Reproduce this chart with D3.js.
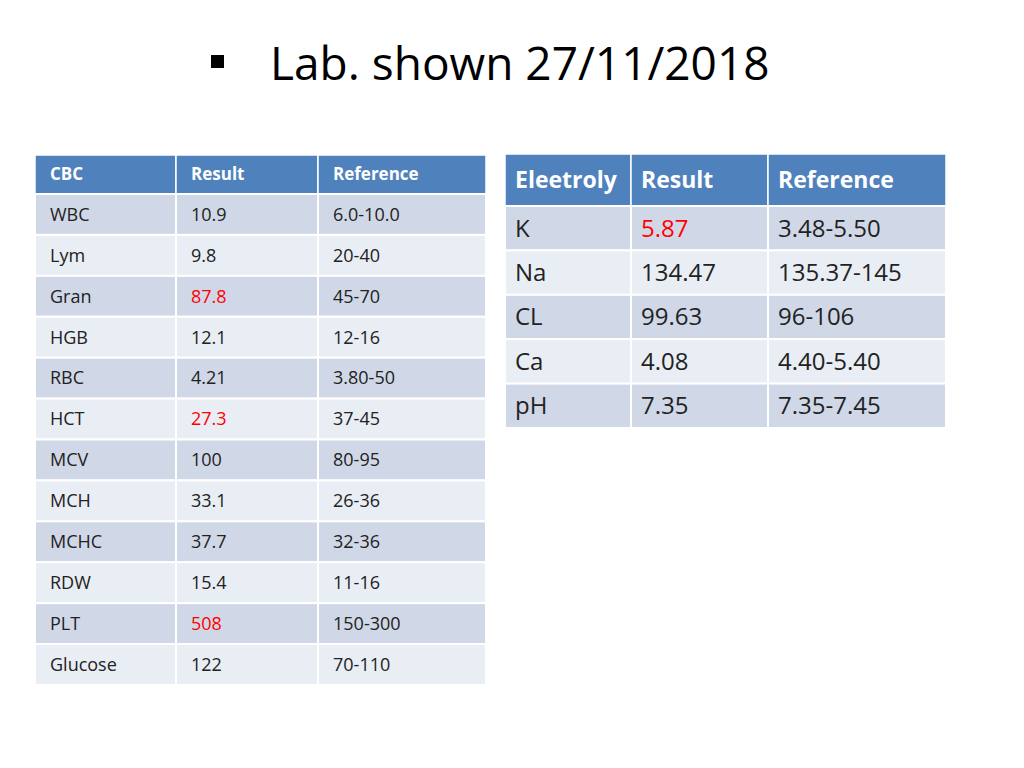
<!DOCTYPE html>
<html><head><meta charset="utf-8">
<script src="https://cdn.jsdelivr.net/npm/d3@7"></script>
<style>body{margin:0;background:#fff}</style>
</head><body><div id="slide"></div>
<script>
// table data
const cbcHeader = ["CBC", "Result", "Reference"];
const cbcTests = ["WBC","Lym","Gran","HGB","RBC","HCT","MCV","MCH","MCHC","RDW","PLT","Glucose"];
const cbcResults = ["10.9","9.8","87.8","12.1","4.21","27.3","100","33.1","37.7","15.4","508","122"];
const cbcRefs = ["6.0-10.0","20-40","45-70","12-16","3.80-50","37-45","80-95","26-36","32-36","11-16","150-300","70-110"];
const cbcHigh = ["Gran","HCT","PLT"];

const elHeader = ["Eleetroly", "Result", "Reference"];
const elTests = ["K","Na","CL","Ca","pH"];
const elResults = ["5.87","134.47","99.63","4.08","7.35"];
const elRefs = ["3.48-5.50","135.37-145","96-106","4.40-5.40","7.35-7.45"];
const elHigh = ["K"];

const W = 1024, H = 768;
const font = "'Open Sans', 'Liberation Sans', sans-serif";
const svg = d3.select("#slide").append("svg").attr("width", W).attr("height", H);

// title
svg.append("rect").attr("x", 211).attr("y", 55).attr("width", 13).attr("height", 13).attr("fill", "#000");
svg.append("text").attr("x", 270).attr("y", 80).attr("font-family", font)
  .attr("font-size", 46).attr("fill", "#000").text("Lab. shown 27/11/2018");

function table(opt) {
  const x = d3.scaleThreshold().domain([1, 2]).range([0, 1, 2]); // unused helper
  const colX = d3.scaleOrdinal().domain([0, 1, 2]).range(opt.cols.slice(0, 3));
  const y = d3.scaleBand().domain(opt.tests).range([opt.headerBottom, opt.bottom]);
  const g = svg.append("g");
  // header
  opt.header.forEach((h, i) => {
    g.append("rect").attr("x", opt.cols[i]).attr("y", opt.top)
      .attr("width", opt.cols[i + 1] - opt.cols[i]).attr("height", opt.headerBottom - opt.top)
      .attr("fill", "#4f81bd").attr("stroke", "#fff").attr("stroke-width", 1.5);
    g.append("text").attr("x", opt.cols[i] + opt.pad).attr("y", (opt.top + opt.headerBottom) / 2)
      .attr("dy", "0.35em").attr("font-family", font).attr("font-weight", "bold")
      .attr("font-size", opt.hsize).attr("fill", "#fff").text(h);
  });
  opt.tests.forEach((t, r) => {
    const vals = [t, opt.results[r], opt.refs[r]];
    vals.forEach((v, i) => {
      g.append("rect").attr("x", colX(i)).attr("y", y(t))
        .attr("width", opt.cols[i + 1] - opt.cols[i]).attr("height", y.bandwidth())
        .attr("fill", r % 2 === 0 ? "#d0d8e8" : "#e9edf4").attr("stroke", "#fff").attr("stroke-width", 2);
      g.append("text").attr("x", colX(i) + opt.pad).attr("y", y(t) + y.bandwidth() / 2)
        .attr("dy", "0.35em").attr("font-family", font).attr("font-size", opt.size)
        .attr("fill", i === 1 && opt.high.includes(t) ? "#ff0000" : "#222").text(v);
    });
  });
}

table({header: cbcHeader, tests: cbcTests, results: cbcResults, refs: cbcRefs, high: cbcHigh,
  cols: [35, 176, 318, 486], top: 155, headerBottom: 194, bottom: 685, pad: 15, size: 18, hsize: 17});
table({header: elHeader, tests: elTests, results: elResults, refs: elRefs, high: elHigh,
  cols: [505, 631, 768, 946], top: 154, headerBottom: 206, bottom: 428, pad: 10, size: 24, hsize: 23});
</script></body></html>
